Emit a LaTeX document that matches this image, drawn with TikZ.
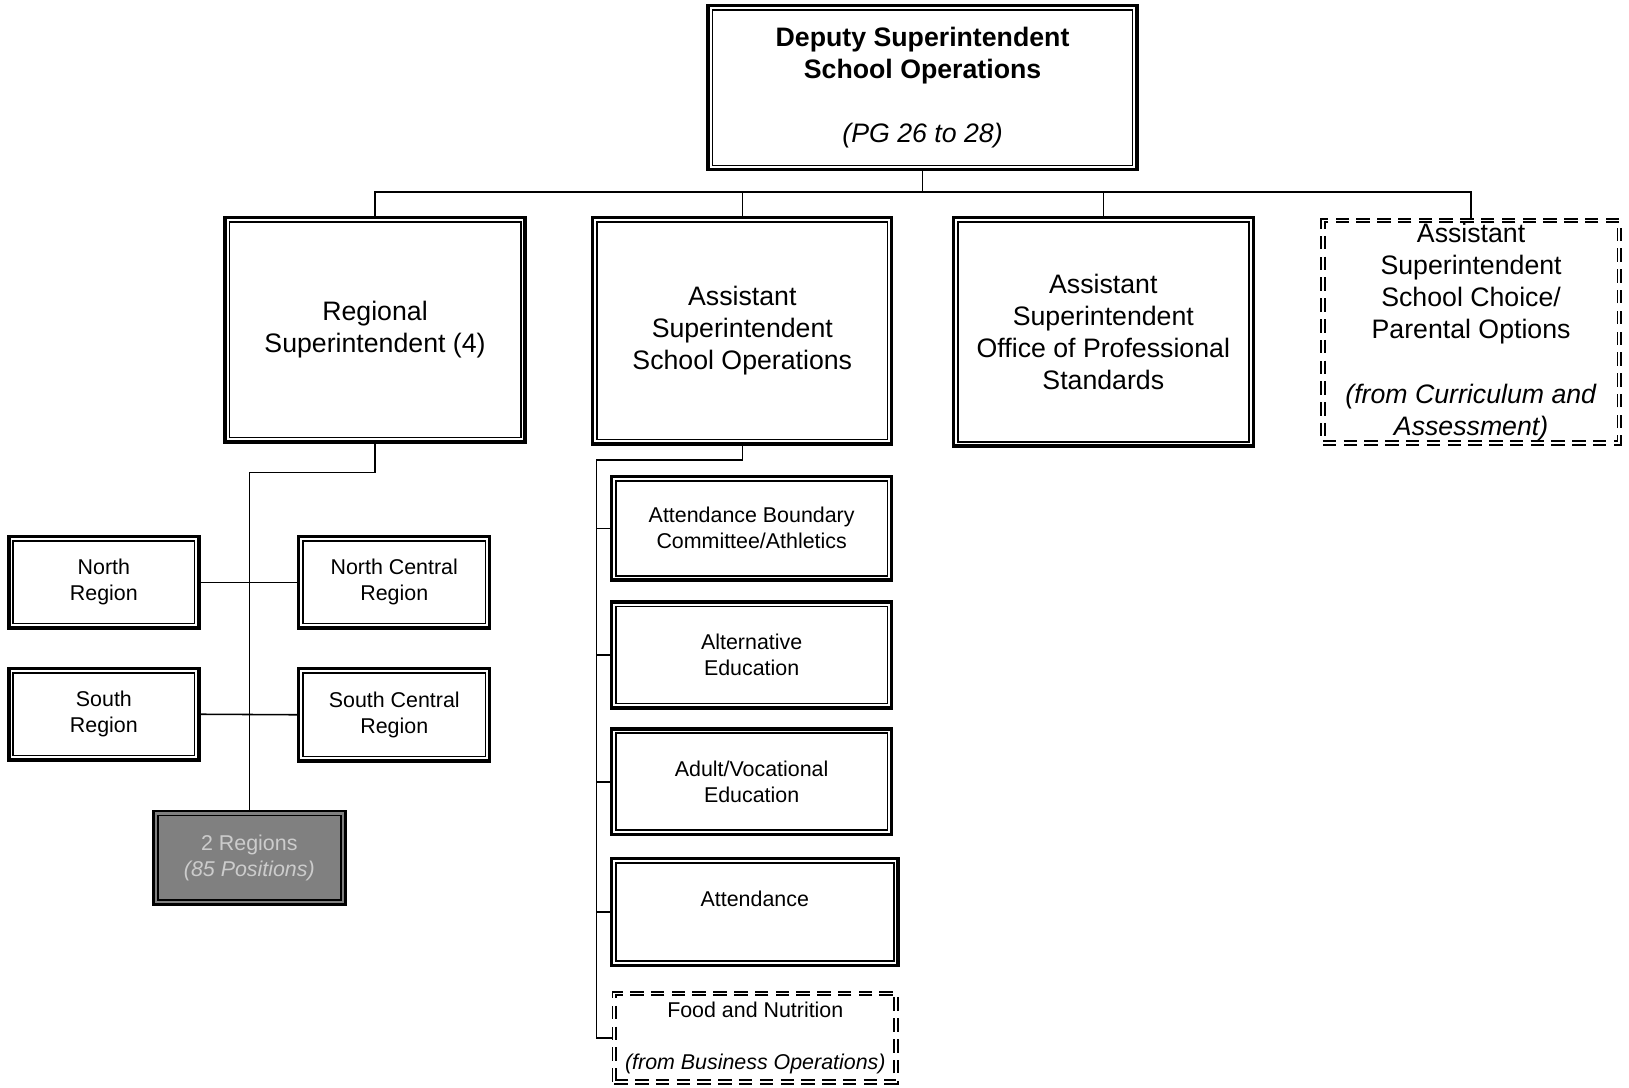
\documentclass[tikz,border=0pt]{standalone}
\usepackage{fontspec}
\setmainfont{Liberation Sans}
\begin{document}
\begin{tikzpicture}[x=0.5pt,y=-0.5pt,
  dbox/.style={draw=black, line width=1.6pt, align=center, inner sep=0pt,
    path picture={\draw[line width=0.8pt,solid] ([shift={(2.1pt,-2.1pt)}]path picture bounding box.north west) rectangle ([shift={(-2.1pt,2.1pt)}]path picture bounding box.south east);}},
  ddash/.style={draw=black, align=center, inner sep=0pt, line width=0.9pt, double=white, double distance=0.9pt, dash pattern=on 6.5pt off 3.5pt},
  bigtxt/.style={font=\fontsize{12.85pt}{15.5pt}\selectfont},
  smalltxt/.style={font=\fontsize{10.3pt}{12.5pt}\selectfont},
  conn/.style={draw=black, line width=0.75pt}]
\useasboundingbox (0,0) rectangle (1568,1047);
% top
\node[dbox,bigtxt,minimum width=206.4pt,minimum height=78.9pt] (top) at (888,84.5)
  {\textbf{Deputy Superintendent}\\\textbf{School Operations}\\[15.5pt]\textit{(PG 26 to 28)}};
% level 2
\node[dbox,bigtxt,minimum width=144.4pt,minimum height=107.9pt] (reg) at (361,317.5)
  {Regional\\Superintendent (4)};
\node[dbox,bigtxt,minimum width=143.9pt,minimum height=108.9pt] (asso) at (714.5,318.5)
  {Assistant\\Superintendent\\School Operations};
\node[dbox,bigtxt,minimum width=144.4pt,minimum height=109.9pt] (ops) at (1062,319.5)
  {Assistant\\Superintendent\\Office of Professional\\Standards};
\node[ddash,bigtxt,minimum width=142.7pt,minimum height=107.2pt] (choice) at (1416,319.5)
  {Assistant\\Superintendent\\School Choice/\\Parental Options\\[15.5pt]\textit{(from Curriculum and}\\\textit{Assessment)}};
% regions
\node[dbox,smalltxt,minimum width=91.4pt,minimum height=43.9pt] (north) at (100,560.5) {North\\Region};
\node[dbox,smalltxt,minimum width=91.9pt,minimum height=43.9pt] (nc) at (379.5,560.5) {North Central\\Region};
\node[dbox,smalltxt,minimum width=91.4pt,minimum height=43.9pt] (south) at (100,687.5) {South\\Region};
\node[dbox,smalltxt,minimum width=91.9pt,minimum height=44.4pt] (sc) at (379.5,688) {South Central\\Region};
\node[dbox,smalltxt,line width=1.2pt,fill=black!50,text=black!20,minimum width=92.4pt,minimum height=44.9pt] (r2) at (240,825.5)
  {2 Regions\\\textit{(85 Positions)}};
% school ops children
\node[dbox,smalltxt,minimum width=134.9pt,minimum height=49.9pt] (ab) at (723.5,508.5) {Attendance Boundary\\Committee/Athletics};
\node[dbox,smalltxt,minimum width=134.9pt,minimum height=50.9pt] (ae) at (723.5,630.5) {Alternative\\Education};
\node[dbox,smalltxt,minimum width=134.9pt,minimum height=50.9pt] (av) at (723.5,752.5) {Adult/Vocational\\Education};
\node[dbox,smalltxt,minimum width=137.9pt,minimum height=51.4pt] (att) at (726.5,878) {Attendance\\~};
\node[ddash,smalltxt,minimum width=135.7pt,minimum height=42.7pt] (food) at (727,999)
  {Food and Nutrition\\[12.5pt]\textit{(from Business Operations)}};
% connectors
\coordinate (bus) at (888,185);
\draw[conn] (top.south) -- (top.south |- bus);
\draw[conn] (reg.north) -- (reg.north |- bus) -- (choice.north |- bus) -- (choice.north);
\draw[conn] (asso.north) -- (asso.north |- bus);
\draw[conn] (ops.north) -- (ops.north |- bus);
\coordinate (rj) at (240,455);
\draw[conn] (reg.south) |- (rj) -- (r2.north);
\draw[conn] (north.east) -- (nc.west);
\draw[conn] (south.east) -- (sc.west);
\coordinate (mj) at (574,443);
\draw[conn] (asso.south) |- (mj) |- (food.west);
\draw[conn] (ab.west) -- (ab.west -| mj);
\draw[conn] (ae.west) -- (ae.west -| mj);
\draw[conn] (av.west) -- (av.west -| mj);
\draw[conn] (att.west) -- (att.west -| mj);
\end{tikzpicture}
\end{document}
